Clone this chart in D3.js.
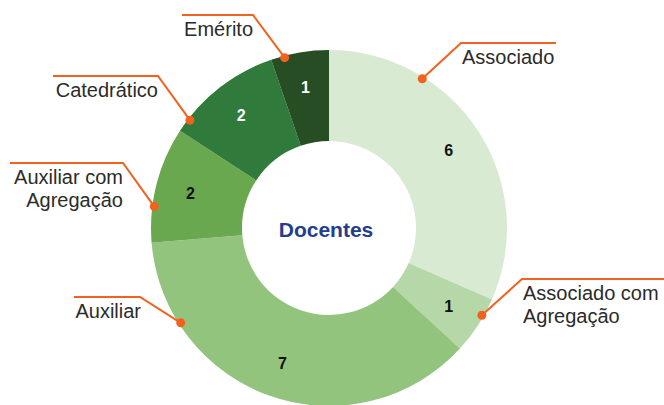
<!DOCTYPE html>
<html>
<head>
<meta charset="utf-8">
<script src="https://cdn.jsdelivr.net/npm/d3@7"></script>
<style>
  body { margin: 0; background: #fff; }
  svg { display: block; }
</style>
</head>
<body>
<svg id="chart" width="664" height="405"></svg>
<script>
// data
var categories = ["Associado", "Associado com Agregação", "Auxiliar", "Auxiliar com Agregação", "Catedrático", "Emérito"];
var values = [6, 1, 7, 2, 2, 1];
var colors = ["#d9ead3", "#b6d7a8", "#93c47d", "#6aa84f", "#307a3c", "#264d24"];
var valueColors = ["#111", "#111", "#111", "#111", "#fff", "#fff"];
var centerTitle = "Docentes";

var width = 664, height = 405;
var cx = 329, cy = 228;
var outerR = 178, innerR = 87, labelR = 143;
var orange = "#f2621f";

// callout layout: where the dot sits on the rim (deg from top), elbow, end of the rule
var callouts = [
  { angle: 32,    elbow: [461, 43],  endX: 556, anchor: "start", tx: 462, lines: ["Associado"] },
  { angle: 119.7, elbow: [522, 279], endX: 664, anchor: "start", tx: 523, lines: ["Associado com", "Agregação"] },
  { angle: 237.4, elbow: [140, 297], endX: 74,  anchor: "end",   tx: 141, lines: ["Auxiliar"] },
  { angle: 277,   elbow: [123, 163], endX: 10,  anchor: "end",   tx: 123, lines: ["Auxiliar com", "Agregação"] },
  { angle: 307.8, elbow: [158, 76],  endX: 53,  anchor: "end",   tx: 158, lines: ["Catedrático"] },
  { angle: 345.4, elbow: [253, 15],  endX: 182, anchor: "end",   tx: 253, lines: ["Emérito"] }
];

var svg = d3.select("#chart");
var g = svg.append("g").attr("transform", "translate(" + cx + "," + cy + ")");

var pie = d3.pie().sort(null).value(function(d) { return d; });
var arcs = pie(values);

var arc = d3.arc().innerRadius(innerR).outerRadius(outerR);
var labelArc = d3.arc().innerRadius(labelR).outerRadius(labelR);

g.selectAll("path.slice")
  .data(arcs)
  .join("path")
  .attr("class", "slice")
  .attr("d", arc)
  .attr("fill", function(d, i) { return colors[i]; });

g.selectAll("text.value")
  .data(arcs)
  .join("text")
  .attr("class", "value")
  .attr("transform", function(d) { return "translate(" + labelArc.centroid(d) + ")"; })
  .attr("text-anchor", "middle")
  .attr("dy", "0.36em")
  .attr("font-family", "Liberation Sans, Arial, sans-serif")
  .attr("font-weight", "bold")
  .attr("font-size", 16)
  .attr("fill", function(d, i) { return valueColors[i]; })
  .text(function(d) { return d.data; });

g.append("text")
  .attr("x", -3)
  .attr("y", 9)
  .attr("text-anchor", "middle")
  .attr("font-family", "Liberation Sans, Arial, sans-serif")
  .attr("font-weight", "bold")
  .attr("font-size", 21)
  .attr("fill", "#233e8b")
  .text(centerTitle);

// callouts
var rim = d3.arc().innerRadius(outerR - 2).outerRadius(outerR - 2);
var co = svg.append("g");
callouts.forEach(function(c) {
  var a = c.angle * Math.PI / 180;
  var p = rim.centroid({ startAngle: a, endAngle: a });
  var px = cx + p[0], py = cy + p[1];
  co.append("polyline")
    .attr("points", [[px, py], c.elbow, [c.endX, c.elbow[1]]].map(function(q) { return q.join(","); }).join(" "))
    .attr("fill", "none")
    .attr("stroke", orange)
    .attr("stroke-width", 2);
  co.append("circle")
    .attr("cx", px).attr("cy", py).attr("r", 4.5)
    .attr("fill", orange);
  var t = co.append("text")
    .attr("text-anchor", c.anchor)
    .attr("font-family", "Liberation Sans Narrow, Arial Narrow, Liberation Sans, sans-serif")
    .attr("font-size", 20)
    .attr("fill", "#2b2b2b");
  c.lines.forEach(function(l, i) {
    t.append("tspan")
      .attr("x", c.tx)
      .attr("y", c.elbow[1] + 21 + i * 23)
      .text(l);
  });
});
</script>
</body>
</html>
